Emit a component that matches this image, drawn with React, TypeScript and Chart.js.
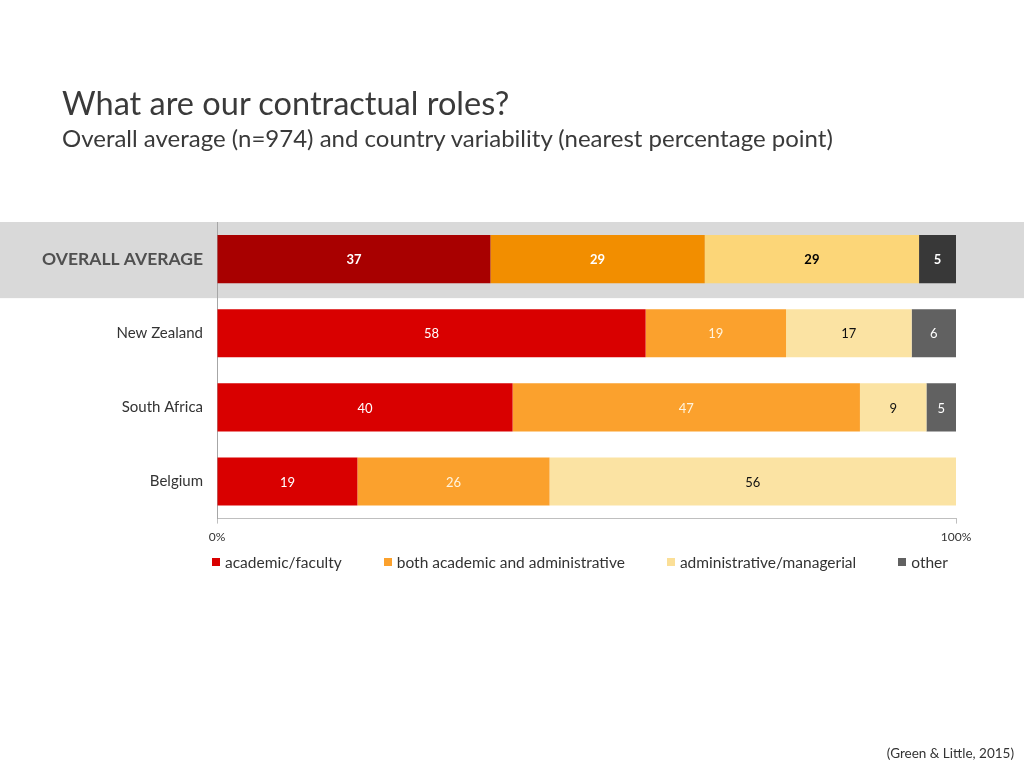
import React, { useEffect, useRef } from "react";
import { Chart, registerables } from "chart.js";

Chart.register(...registerables);

const categories = ["OVERALL AVERAGE", "New Zealand", "South Africa", "Belgium"];
const seriesNames = [
  "academic/faculty",
  "both academic and administrative",
  "administrative/managerial",
  "other",
];
const academic = [37, 58, 40, 19];
const both = [29, 19, 47, 26];
const admin = [29, 17, 9, 56];
const other = [5, 6, 5, 0];
const xTicks = [0, 100];

const FONT = "Lato, 'Open Sans', sans-serif";
const darkColors = ["#A80000", "#F28E00", "#FCD678", "#383838"];
const colors = ["#D90000", "#FBA12D", "#FBE3A3", "#616161"];
const legendColors = ["#D90000", "#FBA12D", "#FBDF97", "#616161"];
const labelColorsOverall = ["#FFFFFF", "#FFFFFF", "#000000", "#FFFFFF"];
const labelColors = ["#FFFFFF", "#FFF4DE", "#111111", "#FFFFFF"];

const bandPlugin = {
  id: "band",
  beforeDraw(chart: any) {
    const { ctx, chartArea } = chart;
    const h = (chartArea.bottom - chartArea.top) / categories.length;
    ctx.save();
    ctx.fillStyle = "#D9D9D9";
    ctx.fillRect(0, chartArea.top, chart.width, h + 2);
    ctx.restore();
  },
};

const labelPlugin = {
  id: "barLabels",
  afterDatasetsDraw(chart: any) {
    const { ctx, chartArea } = chart;
    ctx.save();
    ctx.textAlign = "center";
    ctx.textBaseline = "middle";
    chart.data.datasets.forEach((ds: any, di: number) => {
      const meta = chart.getDatasetMeta(di);
      meta.data.forEach((el: any, i: number) => {
        const v = ds.data[i];
        if (!v) return;
        const x0 = Math.max(Math.min(el.base, el.x), chartArea.left);
        const x1 = Math.min(Math.max(el.base, el.x), chartArea.right);
        const cx = (x0 + x1) / 2;
        ctx.font = i === 0 ? `bold 13px ${FONT}` : `13px ${FONT}`;
        ctx.fillStyle = i === 0 ? labelColorsOverall[di] : labelColors[di];
        ctx.fillText(String(v), cx, el.y + 1);
      });
    });
    ctx.restore();
  },
};

function ChartView() {
  const ref = useRef<HTMLCanvasElement>(null);
  useEffect(() => {
    if (!ref.current) return;
    const series = [academic, both, admin, other];
    const chart = new Chart(ref.current, {
      type: "bar",
      data: {
        labels: categories,
        datasets: series.map((d, k) => ({
          label: seriesNames[k],
          data: d,
          backgroundColor: (c: any) =>
            c.dataIndex === 0 ? darkColors[k] : colors[k],
          borderWidth: 0,
          barPercentage: 1,
          categoryPercentage: 0.65,
          clip: 0,
        })),
      },
      options: {
        indexAxis: "y",
        animation: false,
        responsive: false,
        maintainAspectRatio: false,
        layout: { padding: { top: 222, right: 68, left: 0, bottom: 218 } },
        scales: {
          x: {
            stacked: true,
            min: 0,
            max: 100,
            afterBuildTicks: (s: any) => {
              s.ticks = xTicks.map((v) => ({ value: v }));
            },
            ticks: {
              callback: (v: any) => v + "%",
              font: { family: FONT, size: 12 },
              color: "#333333",
              padding: 6,
              maxRotation: 0,
            },
            grid: {
              drawOnChartArea: false,
              drawTicks: true,
              tickLength: 5,
              color: "#BFBFBF",
            },
            border: { display: true, color: "#BFBFBF" },
          },
          y: {
            stacked: true,
            afterFit: (s: any) => {
              s.width = 217;
            },
            ticks: {
              padding: 14,
              font: (c: any) =>
                c.index === 0
                  ? { family: FONT, size: 17.5, weight: "bold" }
                  : { family: FONT, size: 15 },
              color: (c: any) => (c.index === 0 ? "#505050" : "#333333"),
            },
            grid: { display: false, drawTicks: false },
            border: { display: true, color: "#A6A6A6" },
          },
        },
        plugins: {
          legend: { display: false },
          tooltip: { enabled: false },
        },
      },
      plugins: [bandPlugin, labelPlugin],
    } as any);
    return () => chart.destroy();
  }, []);
  return (
    <canvas
      ref={ref}
      width={1024}
      height={768}
      style={{ position: "absolute", left: 0, top: 0, width: 1024, height: 768 }}
    />
  );
}

function Legend() {
  return (
    <div
      style={{
        position: "absolute",
        left: 212,
        top: 552,
        display: "flex",
        gap: 42,
        fontSize: 15.5,
        lineHeight: "20px",
        color: "#333333",
        whiteSpace: "nowrap",
      }}
    >
      {seriesNames.map((n, k) => (
        <div key={n} style={{ display: "flex", alignItems: "center" }}>
          <span
            style={{
              display: "inline-block",
              width: 8,
              height: 8,
              background: legendColors[k],
              marginRight: 5,
            }}
          />
          <span>{n}</span>
        </div>
      ))}
    </div>
  );
}

export default function App() {
  return (
    <div
      style={{
        position: "absolute",
        left: 0,
        top: 0,
        width: 1024,
        height: 768,
        background: "#FFFFFF",
        fontFamily: FONT,
        color: "#333333",
        overflow: "hidden",
      }}
    >
      <ChartView />
      <Legend />
      <div
        style={{
          position: "absolute",
          left: 62,
          top: 84,
          fontSize: 32.5,
          lineHeight: "38px",
          color: "#3A3A3A",
          whiteSpace: "nowrap",
        }}
      >
        What are our contractual roles?
      </div>
      <div
        style={{
          position: "absolute",
          left: 62,
          top: 124,
          fontSize: 24,
          lineHeight: "28px",
          color: "#3A3A3A",
          whiteSpace: "nowrap",
        }}
      >
        Overall average (n=974) and country variability (nearest percentage point)
      </div>
      <div
        style={{
          position: "absolute",
          right: 10,
          top: 744,
          fontSize: 13.5,
          lineHeight: "18px",
          color: "#333333",
          whiteSpace: "nowrap",
        }}
      >
        (Green &amp; Little, 2015)
      </div>
    </div>
  );
}
